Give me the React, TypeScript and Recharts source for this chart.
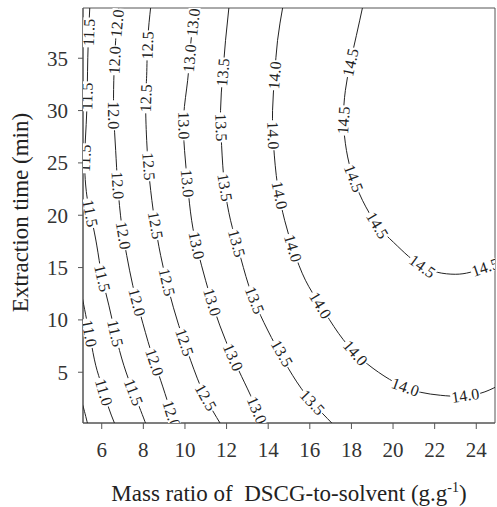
import React from "react";
import { ScatterChart, Scatter, XAxis, YAxis, ReferenceArea, Label } from "recharts";

const FONT = '"Liberation Serif", "Times New Roman", serif';

const X_DOMAIN: [number, number] = [5.1, 24.9];
const Y_DOMAIN: [number, number] = [0.15, 39.8];
const X_TICKS = [6, 8, 10, 12, 14, 16, 18, 20, 22, 24];
const Y_TICKS = [5, 10, 15, 20, 25, 30, 35];

// contour lines, [mass ratio, time]
const C105 = [[4.95, 2.5], [5.09, 1.84], [5.33, 0.0]];
const C110 = [[5.02, 12.6], [5.09, 11.89], [5.28, 9.98], [5.47, 8.06], [5.71, 5.67], [6.0, 3.76], [6.29, 1.84], [6.64, 0.0]];
const C115 = [[5.43, 40.0], [5.33, 35.05], [5.28, 29.88], [5.18, 25.29], [5.28, 21.94], [5.47, 20.02], [5.76, 17.15], [6.0, 14.28], [6.34, 11.41], [6.67, 8.54], [7.06, 5.67], [7.49, 3.28], [7.87, 1.36], [8.13, 0.0]];
const C120 = [[6.83, 40.0], [6.67, 36.71], [6.58, 32.89], [6.58, 29.55], [6.67, 26.2], [6.77, 22.86], [6.96, 19.04], [7.2, 16.17], [7.49, 13.31], [7.87, 10.44], [8.35, 7.1], [8.83, 4.24], [9.22, 1.85], [9.52, 0.0]];
const C125 = [[8.36, 40.0], [8.21, 36.71], [8.16, 33.37], [8.11, 30.98], [8.16, 27.16], [8.3, 23.34], [8.54, 19.52], [8.83, 16.17], [9.22, 12.83], [9.7, 9.49], [10.27, 6.15], [10.94, 2.8], [11.73, 0.0]];
const C130 = [[10.48, 40.0], [10.27, 36.23], [10.13, 32.89], [9.94, 29.55], [9.98, 26.2], [10.13, 22.86], [10.32, 19.52], [10.61, 16.65], [10.99, 13.79], [11.42, 10.92], [11.95, 8.06], [12.58, 5.19], [13.15, 2.8], [13.76, 0.0]];
const C135 = [[12.12, 40.0], [11.95, 36.71], [11.81, 33.37], [11.71, 30.02], [11.76, 26.68], [11.9, 22.86], [12.19, 19.52], [12.58, 16.65], [13.06, 13.31], [13.63, 10.44], [14.35, 7.58], [15.17, 4.71], [16.03, 2.33], [17.13, 0.0]];
const C140 = [[14.71, 40.0], [14.45, 36.71], [14.31, 33.37], [14.21, 30.02], [14.26, 26.68], [14.45, 22.86], [14.79, 19.52], [15.22, 16.65], [15.79, 13.79], [16.51, 11.4], [17.38, 8.72], [18.29, 6.62], [19.3, 5.0], [20.35, 3.76], [21.31, 3.09], [22.27, 2.8], [23.23, 2.71], [24.2, 2.99], [25.0, 3.65]];
const C145 = [[18.55, 40.0], [18.24, 37.19], [17.95, 34.61], [17.71, 31.93], [17.62, 29.07], [17.76, 26.2], [18.05, 23.82], [18.53, 21.43], [19.25, 19.04], [20.02, 17.42], [20.74, 16.08], [21.41, 15.12], [22.13, 14.55], [22.99, 14.36], [23.71, 14.55], [24.43, 15.03], [25.0, 15.6]];

// inline label positions
const L110 = [[5.4, 8.72], [6.1, 3.09]];
const L115 = [[5.38, 37.47], [5.29, 31.36], [5.19, 25.44], [5.45, 20.19], [6.03, 13.98], [6.65, 8.72], [7.53, 3.09]];
const L120 = [[6.74, 38.33], [6.62, 34.8], [6.58, 29.55], [6.77, 22.86], [7.04, 18.08], [7.7, 11.69], [8.54, 5.96], [9.36, 0.99]];
const L125 = [[8.2, 36.23], [8.12, 31.17], [8.26, 24.68], [8.59, 19.04], [9.13, 13.6], [9.98, 7.87], [11.0, 2.61]];
const L130 = [[10.39, 38.43], [10.22, 34.99], [9.95, 28.59], [10.12, 23.05], [10.56, 17.13], [11.31, 11.69], [12.31, 6.43], [13.46, 1.37]];
const L135 = [[11.82, 33.65], [11.74, 28.4], [11.92, 22.67], [12.49, 17.32], [13.35, 11.88], [14.66, 6.81], [16.12, 2.13]];
const L140 = [[14.31, 33.37], [14.24, 27.64], [14.55, 21.91], [15.19, 16.84], [16.51, 11.4], [18.19, 6.84], [20.59, 3.59], [23.47, 2.78]];
const L145 = [[17.95, 34.61], [17.62, 29.07], [18.11, 23.53], [19.25, 19.04], [21.41, 15.12], [24.43, 15.03]];

const CONTOURS = [
  { level: "10.5", line: C105, labels: [] as number[][] },
  { level: "11.0", line: C110, labels: L110 },
  { level: "11.5", line: C115, labels: L115 },
  { level: "12.0", line: C120, labels: L120 },
  { level: "12.5", line: C125, labels: L125 },
  { level: "13.0", line: C130, labels: L130 },
  { level: "13.5", line: C135, labels: L135 },
  { level: "14.0", line: C140, labels: L140 },
  { level: "14.5", line: C145, labels: L145 },
];

const W = 497;
const H = 507;
const MARGIN = { top: 8, right: 2, bottom: 0, left: 8 };
const Y_AXIS_W = 75;
const X_AXIS_H = 84;
const PLOT_W = W - MARGIN.left - MARGIN.right - Y_AXIS_W;
const PLOT_H = H - MARGIN.top - MARGIN.bottom - X_AXIS_H;
const KX = PLOT_W / (X_DOMAIN[1] - X_DOMAIN[0]);
const KY = PLOT_H / (Y_DOMAIN[1] - Y_DOMAIN[0]);

const toPts = (arr: number[][]) => arr.map(([x, y]) => ({ x, y }));

// direction of the contour (screen space) nearest to a label
function angleAt(line: number[][], x: number, y: number) {
  let best = 0;
  let bd = Infinity;
  for (let i = 0; i < line.length - 1; i++) {
    const ax = line[i][0] * KX, ay = -line[i][1] * KY;
    const bx = line[i + 1][0] * KX, by = -line[i + 1][1] * KY;
    const px = x * KX, py = -y * KY;
    const dx = bx - ax, dy = by - ay;
    const t = Math.max(0, Math.min(1, ((px - ax) * dx + (py - ay) * dy) / (dx * dx + dy * dy)));
    const d = Math.hypot(ax + t * dx - px, ay + t * dy - py);
    if (d < bd) { bd = d; best = i; }
  }
  const a = line[best], b = line[best + 1];
  let ang = (Math.atan2(-(b[1] - a[1]) * KY, (b[0] - a[0]) * KX) * 180) / Math.PI;
  if (ang > 90) ang -= 180;
  if (ang <= -90) ang += 180;
  return ang;
}

const Empty = () => <g />;

function makeLabel(line: number[][], text: string) {
  return (props: any) => {
    const { cx, cy, payload } = props;
    if (cx == null || cy == null) return <g />;
    const ang = angleAt(line, payload.x, payload.y);
    return (
      <g transform={`translate(${cx},${cy}) rotate(${ang})`}>
        <rect x={-15} y={-6} width={30} height={12} fill="#fff" />
        <text x={0} y={0} dy="0.34em" textAnchor="middle" fontSize={16} fontFamily={FONT} fill="#222">
          {text}
        </text>
      </g>
    );
  };
}

const XTitle = (props: any) => {
  const vb = props.viewBox || { x: 83, y: 423, width: PLOT_W };
  return (
    <text x={vb.x + vb.width / 2} y={vb.y + 78} textAnchor="middle" fontSize={23} fontFamily={FONT} fill="#222">
      <tspan>Mass ratio of{"\u00a0"} DSCG-to-solvent (g.g</tspan>
      <tspan dy={-9} fontSize={14}>-1</tspan>
      <tspan dy={9}>)</tspan>
    </text>
  );
};

const YTitle = (props: any) => {
  const vb = props.viewBox || { x: 8, y: 8, height: PLOT_H };
  const cx = 28;
  const cy = vb.y + vb.height / 2 - 3;
  return (
    <text x={cx} y={cy} transform={`rotate(-90 ${cx} ${cy})`} textAnchor="middle" fontSize={23} fontFamily={FONT} fill="#222">
      Extraction time (min)
    </text>
  );
};

const tickStyle = { fontSize: 21, fill: "#333", fontFamily: FONT };

export default function App() {
  return (
    <div style={{ position: "absolute", left: 0, top: 0, background: "#fff" }}>
      <ScatterChart width={W} height={H} margin={MARGIN}>
        <XAxis
          type="number"
          dataKey="x"
          domain={X_DOMAIN}
          ticks={X_TICKS}
          allowDataOverflow
          height={X_AXIS_H}
          tickSize={6}
          tickMargin={13}
          tick={tickStyle}
          axisLine={{ stroke: "#555" }}
          tickLine={{ stroke: "#555" }}
        >
          <Label content={XTitle} />
        </XAxis>
        <YAxis
          type="number"
          dataKey="y"
          domain={Y_DOMAIN}
          ticks={Y_TICKS}
          allowDataOverflow
          width={Y_AXIS_W}
          tickSize={5}
          tickMargin={10}
          tick={tickStyle}
          axisLine={{ stroke: "#555" }}
          tickLine={{ stroke: "#555" }}
        >
          <Label content={YTitle} />
        </YAxis>
        <ReferenceArea
          x1={X_DOMAIN[0]}
          x2={X_DOMAIN[1]}
          y1={Y_DOMAIN[0]}
          y2={Y_DOMAIN[1]}
          fill="none"
          stroke="#555"
          strokeWidth={1}
        />
        {CONTOURS.map((c) => (
          <Scatter
            key={"line" + c.level}
            data={toPts(c.line)}
            line={{ stroke: "#222", strokeWidth: 1 }}
            lineJointType="natural"
            shape={Empty}
            isAnimationActive={false}
          />
        ))}
        {CONTOURS.filter((c) => c.labels.length > 0).map((c) => (
          <Scatter
            key={"lab" + c.level}
            data={toPts(c.labels)}
            shape={makeLabel(c.line, c.level)}
            isAnimationActive={false}
          />
        ))}
      </ScatterChart>
    </div>
  );
}
